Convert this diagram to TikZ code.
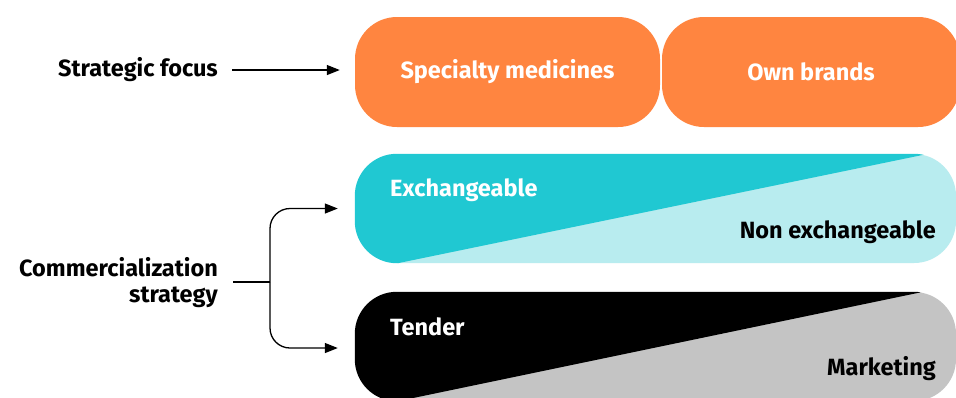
\documentclass[tikz,border=0pt]{standalone}
\usepackage{fontspec}
\setmainfont{Fira Sans}
\usetikzlibrary{arrows.meta,calc}
\definecolor{orng}{HTML}{FF8540}
\definecolor{cyandark}{HTML}{20C8D2}
\definecolor{cyanlight}{HTML}{B8ECEF}
\definecolor{greyl}{HTML}{C4C4C4}
\tikzset{
  lbl/.style={font=\bfseries\fontsize{23.5}{26}\selectfont, text=black, inner sep=0pt},
  boxtxt/.style={font=\bfseries\fontsize{23.5}{26}\selectfont, inner sep=0pt},
  orngbox/.style={fill=orng, rounded corners=42pt, minimum height=110pt, inner sep=0pt},
  splitbox/.style={rounded corners=42pt, minimum width=601pt, minimum height=109pt, inner sep=0pt},
  conn/.style={line width=1.3pt, -{Triangle[length=13pt,width=10pt]}},
}
\begin{document}
\begin{tikzpicture}[x=1pt,y=-1pt]
\useasboundingbox[fill=white] (0,0) rectangle (956,397);
% top row
\node[orngbox, minimum width=305pt] (o1) at (507.5,72) {};
\node[orngbox, minimum width=298pt] (o2) at (811,72) {};
\node[boxtxt, text=white] (t1) at (o1.center) {Specialty medicines};
\node[boxtxt, text=white] (t2) at (o2.center) {Own brands};
% cyan split box
\node[splitbox, fill=cyanlight] (ex) at (655.5,208.5) {};
\begin{scope}
  \clip[rounded corners=42pt] (ex.north west) rectangle (ex.south east);
  \fill[cyandark] (ex.north west) -- ($(ex.north east)+(-28pt,0)$) -- ($(ex.south west)+(43pt,0)$) -- (ex.south west) -- cycle;
\end{scope}
% black split box
\node[splitbox, fill=greyl] (te) at (655.5,346.5) {};
\begin{scope}
  \clip[rounded corners=42pt] (te.north west) rectangle (te.south east);
  \fill[black] (te.north west) -- ($(te.north east)+(-33pt,0)$) -- ($(te.south west)+(43pt,0)$) -- (te.south west) -- cycle;
\end{scope}
\node[boxtxt, text=white, anchor=west] (exl) at (390,190) {Exchangeable};
\node[boxtxt, text=black, anchor=east] (nexl) at (936,232) {Non exchangeable};
\node[boxtxt, text=white, anchor=west] (tel) at (390,327) {Tender};
\node[boxtxt, text=black, anchor=east] (mkl) at (936,369) {Marketing};
% left labels
\node[lbl, anchor=east] (sf) at (218,70) {Strategic focus};
\node[lbl, anchor=east, align=right] (cs) at (218,283) {Commercialization\\strategy};
\draw[conn] ([xshift=14pt]sf.east) -- ([xshift=-15pt]sf.east -| o1.west);
\coordinate (br) at (270,282);
\draw[line width=1.3pt] ([xshift=15pt]cs.east |- br) -- (br);
\draw[conn, rounded corners=20pt] (br) |- ([xshift=-17pt]ex.west);
\draw[conn, rounded corners=20pt] (br) |- ([xshift=-17pt,yshift=-1.5pt]te.west);
\end{tikzpicture}
\end{document}
